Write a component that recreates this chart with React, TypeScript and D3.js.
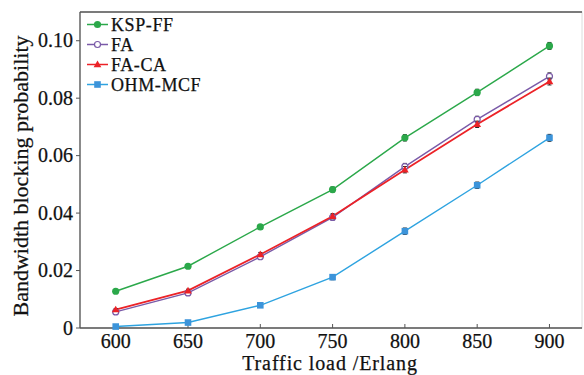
import React, { useEffect, useRef } from 'react';
import * as d3 from 'd3';

const loads = [600, 650, 700, 750, 800, 850, 900];
const kspFF = [0.0128, 0.0215, 0.0352, 0.0482, 0.0662, 0.082, 0.0982];
const fa = [0.0056, 0.0122, 0.0248, 0.0385, 0.0562, 0.0726, 0.0876];
const faCA = [0.0064, 0.013, 0.0256, 0.0389, 0.0551, 0.0709, 0.0858];
const ohmMCF = [0.0005, 0.0019, 0.0079, 0.0177, 0.0337, 0.0497, 0.0662];
const errs = [0.0004, 0.0005, 0.0007, 0.0009, 0.0011, 0.0011, 0.0012];
const xTicks = [600, 650, 700, 750, 800, 850, 900];
const yTicks = [0, 0.02, 0.04, 0.06, 0.08, 0.1];

const series = [
	{ name: 'KSP-FF', values: kspFF, color: '#2ba84a', marker: 'circle' },
	{ name: 'FA', values: fa, color: '#7a5aa8', marker: 'open' },
	{ name: 'FA-CA', values: faCA, color: '#ec2227', marker: 'triangle' },
	{ name: 'OHM-MCF', values: ohmMCF, color: '#2ea3e0', marker: 'square' },
];

const font = '"Liberation Serif", serif';

function Chart(): JSX.Element {
	const ref = useRef<SVGSVGElement | null>(null);
	useEffect(() => {
		if (!ref.current) return;
		const width = 584;
		const height = 375;
		const m = { left: 80, right: 2, top: 12, bottom: 47 };
		const svg = d3.select(ref.current);
		svg.selectAll('*').remove();
		svg.attr('viewBox', `0 0 ${width} ${height}`);
		const x = d3.scaleLinear([575.3, 922.5], [m.left, width - m.right]);
		const y = d3.scaleLinear([0, 0.11], [height - m.bottom, m.top]);
		const g = svg.append('g');
		const txt = (sel: any, size: number) =>
			sel.style('font-family', font).style('font-size', `${size}px`).attr('fill', '#111')
				.attr('stroke', '#111').attr('stroke-width', 0.25);

		// frame
		g.append('rect').attr('x', m.left).attr('y', m.top)
			.attr('width', width - m.right - m.left).attr('height', height - m.bottom - m.top)
			.attr('fill', 'none').attr('stroke', '#dcdcdc').attr('stroke-width', 1);
		g.append('line').attr('x1', m.left).attr('x2', width - m.right).attr('y1', m.top).attr('y2', m.top)
			.attr('stroke', '#555').attr('stroke-width', 1.3);
		g.append('line').attr('x1', m.left).attr('x2', m.left).attr('y1', m.top).attr('y2', height - m.bottom)
			.attr('stroke', '#555').attr('stroke-width', 1.3);
		g.append('line').attr('x1', m.left).attr('x2', width - m.right).attr('y1', height - m.bottom).attr('y2', height - m.bottom)
			.attr('stroke', '#555').attr('stroke-width', 1.3);

		// x ticks
		g.selectAll('line.xt').data(xTicks).enter().append('line')
			.attr('x1', d => x(d)).attr('x2', d => x(d))
			.attr('y1', height - m.bottom).attr('y2', height - m.bottom - 4)
			.attr('stroke', '#555').attr('stroke-width', 1);
		txt(g.selectAll('text.xt').data(xTicks).enter().append('text')
			.attr('x', d => x(d)).attr('y', 348).attr('text-anchor', 'middle'), 20).text(d => d);

		// y ticks
		g.selectAll('line.yt').data(yTicks).enter().append('line')
			.attr('x1', m.left).attr('x2', m.left - 4)
			.attr('y1', d => y(d)).attr('y2', d => y(d))
			.attr('stroke', '#555').attr('stroke-width', 1);
		txt(g.selectAll('text.yt').data(yTicks).enter().append('text')
			.attr('x', 73).attr('y', d => y(d) + 6.5).attr('text-anchor', 'end'), 20)
			.text(d => (d === 0 ? '0' : d3.format('.2f')(d)));

		// titles
		txt(g.append('text').attr('x', 330).attr('y', 370.3).attr('text-anchor', 'middle'), 20)
			.attr('letter-spacing', 0.9).text('Traffic load /Erlang');
		txt(g.append('text').attr('transform', `translate(28,${(m.top + height - m.bottom) / 2 + 6}) rotate(-90)`)
			.attr('text-anchor', 'middle'), 22).text('Bandwidth blocking probability');

		const line = d3.line<number>().x((_, i) => x(loads[i])).y(d => y(d));

		const drawMarker = (sel: any, marker: string, color: string, cx: number, cy: number) => {
			if (marker === 'circle') {
				sel.append('circle').attr('cx', cx).attr('cy', cy).attr('r', 3.6).attr('fill', color);
			} else if (marker === 'open') {
				sel.append('circle').attr('cx', cx).attr('cy', cy).attr('r', 3).attr('fill', '#fff').attr('stroke', color).attr('stroke-width', 1.2);
			} else if (marker === 'triangle') {
				sel.append('path').attr('d', d3.symbol(d3.symbolTriangle, 26)()).attr('transform', `translate(${cx},${cy + 0.5})`).attr('fill', color);
			} else {
				sel.append('rect').attr('x', cx - 3.3).attr('y', cy - 3.3).attr('width', 6.6).attr('height', 6.6).attr('fill', '#3c94da');
			}
		};

		series.forEach(s => {
			g.append('path').attr('d', line(s.values) as any).attr('fill', 'none')
				.attr('stroke', s.color).attr('stroke-width', s.marker === 'triangle' ? 1.8 : 1.4);
		});
		series.forEach(s => {
			s.values.forEach((v, i) => {
				const cx = x(loads[i]);
				const e = errs[i];
				g.append('line').attr('x1', cx).attr('x2', cx).attr('y1', y(v - e)).attr('y2', y(v + e)).attr('stroke', '#222').attr('stroke-width', 1);
				[v - e, v + e].forEach(t => g.append('line').attr('x1', cx - 2).attr('x2', cx + 2).attr('y1', y(t)).attr('y2', y(t)).attr('stroke', '#222').attr('stroke-width', 1));
				drawMarker(g, s.marker, s.color, cx, y(v));
			});
		});

		// legend
		const lg = g.append('g');
		series.forEach((s, i) => {
			const ly = 24.5 + i * 20;
			lg.append('line').attr('x1', 87).attr('x2', 108).attr('y1', ly).attr('y2', ly).attr('stroke', s.color).attr('stroke-width', 1.5);
			drawMarker(lg, s.marker, s.color, 97.5, ly);
			txt(lg.append('text').attr('x', 111).attr('y', ly + 6), 18).attr('letter-spacing', 0.6).text(s.name);
		});
	}, []);
	return <svg ref={ref} width={584} height={375} style={{ display: 'block' }} />;
}

export default function App(): JSX.Element {
	return (
		<div style={{ position: 'absolute', left: 0, top: 0, width: 584, height: 375, background: '#fff' }}>
			<Chart />
		</div>
	);
}
